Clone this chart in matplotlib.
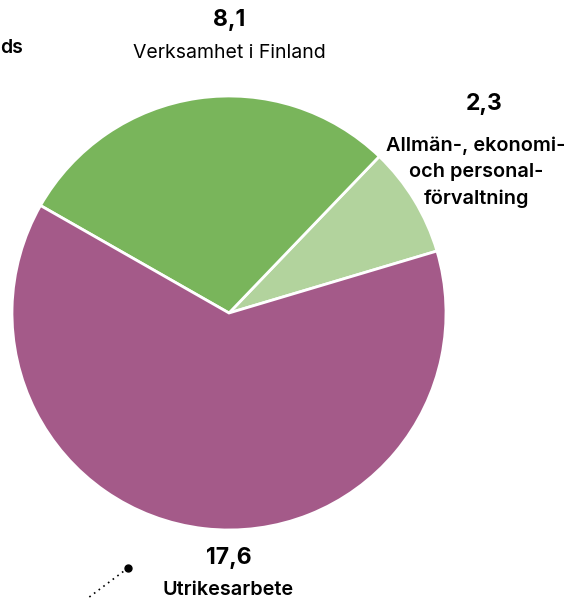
import matplotlib.pyplot as plt

plt.rcParams['font.family'] = ['Inter', 'DejaVu Sans']

values = [2.3, 8.1, 17.6]
value_labels = ["2,3", "8,1", "17,6"]
names = ["Allmän-, ekonomi-\noch personal-\nförvaltning", "Verksamhet i Finland", "Utrikesarbete"]
colors = ["#b2d39d", "#79b55b", "#a45a89"]

W, H = 572, 598
fig = plt.figure(figsize=(W / 100, H / 100), dpi=100)
ax = fig.add_axes([0, 0, 1, 1])

cx, cy, r = 229, H - 313, 217
ax.pie(values, colors=colors, startangle=16.6, counterclock=True,
       center=(cx, cy), radius=r, frame=True,
       wedgeprops=dict(edgecolor="white", linewidth=2))
ax.set_xlim(0, W)
ax.set_ylim(0, H)
ax.set_aspect("equal")
ax.axis("off")

# labels
ax.text(229, H - 20, value_labels[1], ha="center", va="center", fontsize=16.5, fontweight="bold")
ax.text(229, H - 53, names[1], ha="center", va="center", fontsize=14)
ax.text(484, H - 104, value_labels[0], ha="center", va="center", fontsize=16.5, fontweight="bold")
ax.text(476, H - 172, names[0], ha="center", va="center", fontsize=14.3, fontweight="semibold",
        linespacing=1.58)
ax.text(229, H - 558, value_labels[2], ha="center", va="center", fontsize=16.5, fontweight="bold")
ax.text(228, H - 590, names[2], ha="center", va="center", fontsize=14.3, fontweight="semibold")

# label of neighbouring chart, cut at the left edge
ax.text(0, H - 48, "ds", ha="left", va="center", fontsize=14, fontweight="semibold")

# dotted leader line
ax.plot([128, 84], [H - 568, H - 601], color="black", linestyle=(0, (1, 2.5)), linewidth=1.2,
        clip_on=False)
ax.plot([128], [H - 568], "o", color="black", markersize=5)

fig.savefig("out.png", dpi=100)
